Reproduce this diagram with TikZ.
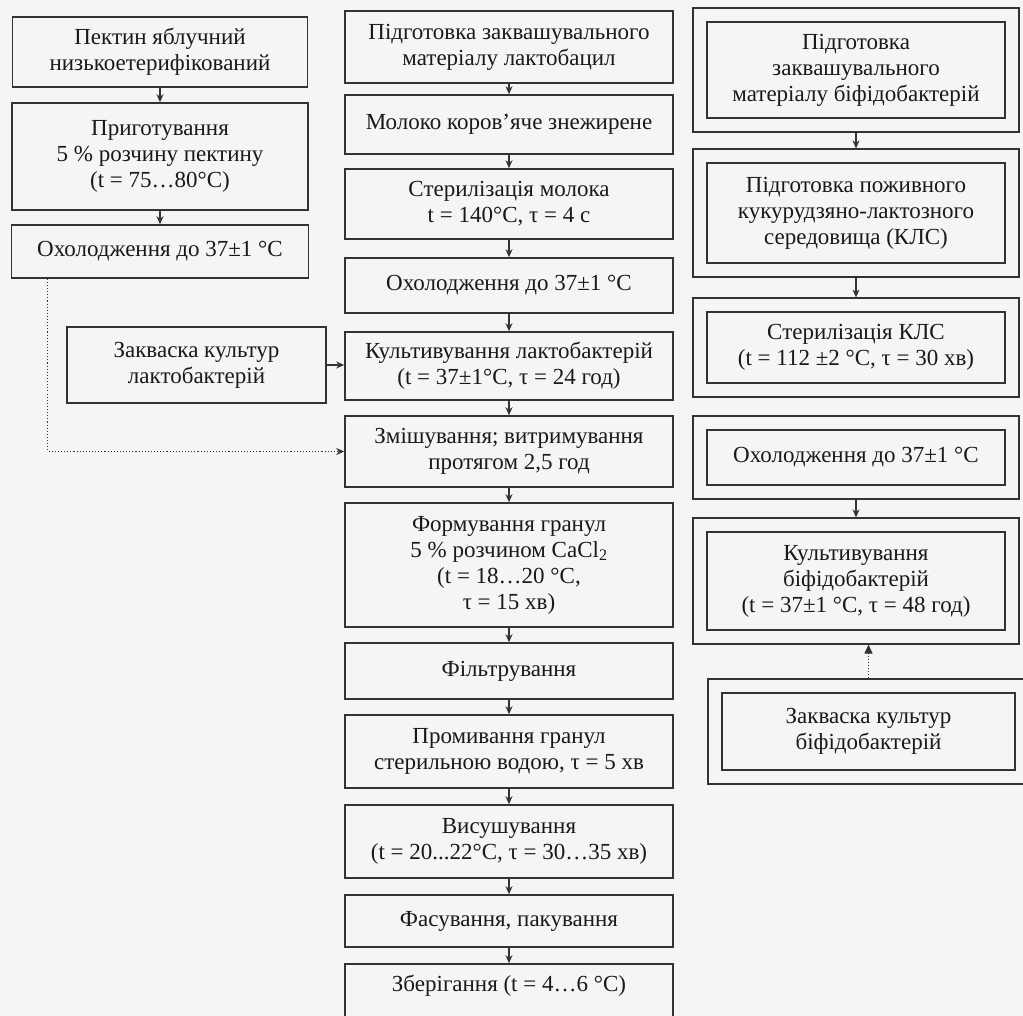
\documentclass[tikz,border=0pt]{standalone}
\usepackage{fontspec}
\setmainfont{Liberation Serif}
\usetikzlibrary{arrows.meta,fit}

\begin{document}
\begin{tikzpicture}[x=1pt, y=-1pt, >={Stealth[length=8pt,width=7pt]}, font=\fontsize{23}{26}\selectfont]
  % Define styles
  \tikzstyle{stage} = [rectangle, draw=black!80, line width=1.6pt, align=center, inner sep=2pt, text=black!90]
  \tikzstyle{frame} = [rectangle, draw=black!80, line width=1.6pt, inner sep=13pt]
  \tikzstyle{flow} = [->, draw=black!80, line width=1.1pt]
  \tikzstyle{aux} = [->, draw=black!80, line width=1.1pt, dotted]

  \useasboundingbox (0,0) rectangle (1023,1016);
  \fill[black!4] (0,0) rectangle (1023,1016);

  % Pectin column
  \node[stage, minimum width=295pt, minimum height=70pt] (pectin) at (160,52) {Пектин яблучний\\низькоетерифікований};
  \node[stage, minimum width=296pt, minimum height=107pt] (solution) at (160,156.5) {Приготування\\5 \% розчину пектину\\(t = 75…80°C)};
  \node[stage, minimum width=297pt, minimum height=53pt] (coolL) at (160,251.5) {Охолодження до 37±1 °C};
  \node[stage, minimum width=259pt, minimum height=76pt] (starterL) at (196.5,365) {Закваска культур\\лактобактерій};

  % Main column
  \node[stage, minimum width=328pt, minimum height=72pt] (prepL) at (509,47) {Підготовка заквашувального\\матеріалу лактобацил};
  \node[stage, minimum width=328pt, minimum height=59pt] (milk) at (509,124.5) {Молоко коров'яче знежирене};
  \node[stage, minimum width=328pt, minimum height=70pt] (steril) at (509,204) {Стерилізація молока\\t = 140°C, τ = 4 с};
  \node[stage, minimum width=328pt, minimum height=55pt] (coolM) at (509,285.5) {Охолодження до 37±1 °C};
  \node[stage, minimum width=328pt, minimum height=68pt] (cultL) at (509,366) {Культивування лактобактерій\\(t = 37±1°C, τ = 24 год)};
  \node[stage, minimum width=328pt, minimum height=71pt] (mix) at (509,451.5) {Змішування; витримування\\протягом 2,5 год};
  \node[stage, minimum width=328pt, minimum height=124pt] (gran) at (509,565) {Формування гранул\\5 \% розчином CaCl\textsubscript{2}\\(t = 18…20 °C,\\τ = 15 хв)};
  \node[stage, minimum width=328pt, minimum height=56pt] (filt) at (509,671) {Фільтрування};
  \node[stage, minimum width=328pt, minimum height=73pt] (wash) at (509,751.5) {Промивання гранул\\стерильною водою, τ = 5 хв};
  \node[stage, minimum width=328pt, minimum height=73pt] (dry) at (509,841.5) {Висушування\\(t = 20...22°C, τ = 30…35 хв)};
  \node[stage, minimum width=328pt, minimum height=52pt] (pack) at (509,921) {Фасування, пакування};
  \node[stage, minimum width=328pt, minimum height=60pt, text depth=22pt] (store) at (509,994) {Зберігання (t = 4…6 °C)};

  % Bifidobacteria column
  \node[stage, minimum width=298pt, minimum height=96pt] (prepB) at (856,70) {Підготовка\\заквашувального\\матеріалу біфідобактерій};
  \node[stage, minimum width=298pt, minimum height=100pt] (medium) at (856,213) {Підготовка поживного\\кукурудзяно-лактозного\\середовища (КЛС)};
  \node[stage, minimum width=298pt, minimum height=71pt] (sterK) at (856,347.5) {Стерилізація КЛС\\(t = 112 ±2 °C, τ = 30 хв)};
  \node[stage, minimum width=298pt, minimum height=55pt] (coolR) at (856,457.5) {Охолодження до 37±1 °C};
  \node[stage, minimum width=298pt, minimum height=98pt] (cultB) at (856,581) {Культивування\\біфідобактерій\\(t = 37±1 °C, τ = 48 год)};
  \node[stage, minimum width=293pt, minimum height=77pt] (starterB) at (868.5,731.5) {Закваска культур\\біфідобактерій};
  \foreach \n in {prepB,medium,sterK,coolR,cultB,starterB}
    \node[frame, fit=(\n)] (\n-out) {};

  % Connections - pectin
  \draw[flow] (pectin) -- (solution);
  \draw[flow] (solution) -- (coolL);
  \draw[aux] ([xshift=37pt]coolL.south west) |- (mix.west);
  \draw[flow] (starterL.east) -- (starterL.east -| cultL.west);

  % Connections - main flow
  \foreach \a/\b in {prepL/milk, milk/steril, steril/coolM, coolM/cultL, cultL/mix, mix/gran, gran/filt, filt/wash, wash/dry, dry/pack, pack/store}
    \draw[flow] (\a) -- (\b);

  % Connections - bifidobacteria
  \draw[flow] (prepB-out) -- (medium-out);
  \draw[flow] (medium-out) -- (sterK-out);
  \draw[flow] (coolR-out) -- (cultB-out);
  \draw[draw=black!80, line width=1.1pt, dotted, -{Triangle[length=9pt,width=8pt]}] (starterB-out.north) -- (starterB-out.north |- cultB-out.south);

\end{tikzpicture}
\end{document}
